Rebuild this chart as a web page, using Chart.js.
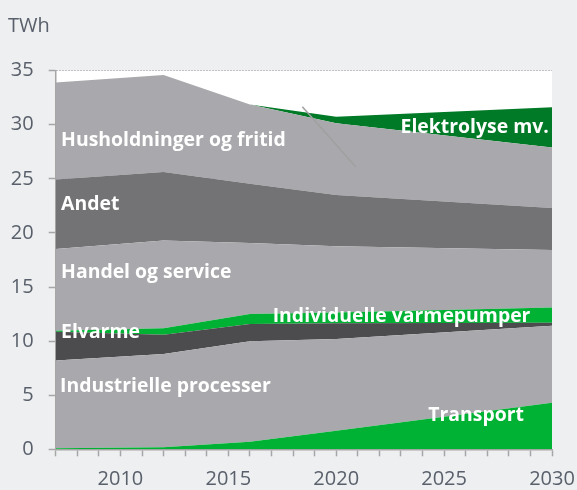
<!DOCTYPE html>
<html>
<head>
<meta charset="utf-8">
<script src="https://cdn.jsdelivr.net/npm/chart.js@4.4.1/dist/chart.umd.min.js"></script>
<style>
  html, body { margin: 0; padding: 0; background: #eeeff1; }
  canvas { display: block; }
</style>
</head>
<body>
<canvas id="chart" width="577" height="490"></canvas>
<script>
// Years with data points
const years = [2007, 2012, 2016, 2020, 2030];

// Layer thickness per year (TWh), stacked bottom to top
const transport = [0.1, 0.2, 0.7, 1.72, 4.3];
const industrielle = [8.1, 8.6, 9.3, 8.48, 7.12];
const elvarme = [2.67, 1.8, 1.58, 1.45, 0.28];
const varmepumper = [0.09, 0.6, 0.92, 1.0, 1.42];
const handel = [7.55, 8.11, 6.57, 6.11, 5.3];
const andet = [6.44, 6.32, 5.48, 4.75, 3.88];
const husholdninger = [8.97, 8.97, 7.32, 6.63, 5.61];
const elektrolyse = [0, 0, 0, 0.6, 3.7];

const yTicks = [0, 5, 10, 15, 20, 25, 30, 35];
const xLabelYears = [2010, 2015, 2020, 2025, 2030];
const unitLabel = "TWh";

// In-chart labels: text, anchor year, baseline value, alignment
const areaLabels = [
  { text: "Husholdninger og fritid", x: 2007.25, y: 28.06, align: "left" },
  { text: "Andet", x: 2007.25, y: 22.12, align: "left" },
  { text: "Handel og service", x: 2007.25, y: 15.83, align: "left" },
  { text: "Elvarme", x: 2007.25, y: 10.26, align: "left" },
  { text: "Industrielle processer", x: 2007.2, y: 5.32, align: "left" },
  { text: "Individuelle varmepumper", x: 2029.0, y: 11.74, align: "right" },
  { text: "Transport", x: 2028.7, y: 2.64, align: "right" },
  { text: "Elektrolyse mv.", x: 2029.85, y: 29.26, align: "right" },
];
// Leader line from the Elektrolyse band
const leader = { x1: 2018.43, y1: 31.66, x2: 2020.9, y2: 26.13 };

const lightGray = "#a9a8ac";
const green = "#00b233";
const darkGreen = "#007a27";
const textColor = "#59606b";
const axisColor = "#a6a6a6";
const gridColor = "#909094";

const toPoints = (arr) => arr.map((v, i) => ({ x: years[i], y: v }));

const series = [
  { label: "Transport", data: transport, color: green },
  { label: "Industrielle processer", data: industrielle, color: lightGray },
  { label: "Elvarme", data: elvarme, color: "#4c4b4d" },
  { label: "Individuelle varmepumper", data: varmepumper, color: green },
  { label: "Handel og service", data: handel, color: lightGray },
  { label: "Andet", data: andet, color: "#737275" },
  { label: "Husholdninger og fritid", data: husholdninger, color: lightGray },
  { label: "Elektrolyse mv.", data: elektrolyse, color: darkGreen },
];

// Paints the plot area white and draws the labels / leader line
const decorations = {
  id: "decorations",
  beforeDraw(chart) {
    const { ctx, chartArea } = chart;
    ctx.save();
    ctx.fillStyle = "#ffffff";
    ctx.fillRect(chartArea.left, chartArea.top, chartArea.right - chartArea.left, chartArea.bottom - chartArea.top);
    ctx.restore();
  },
  afterDraw(chart) {
    const { ctx } = chart;
    const xs = chart.scales.x;
    const ys = chart.scales.y;
    ctx.save();
    // leader line
    ctx.strokeStyle = "#a0a0a0";
    ctx.lineWidth = 1.5;
    ctx.beginPath();
    ctx.moveTo(xs.getPixelForValue(leader.x1), ys.getPixelForValue(leader.y1));
    ctx.lineTo(xs.getPixelForValue(leader.x2), ys.getPixelForValue(leader.y2));
    ctx.stroke();
    // area labels
    ctx.fillStyle = "#ffffff";
    ctx.font = '700 19.4px "Open Sans"';
    ctx.textBaseline = "alphabetic";
    areaLabels.forEach((l) => {
      ctx.textAlign = l.align;
      ctx.fillText(l.text, xs.getPixelForValue(l.x), ys.getPixelForValue(l.y));
    });
    // unit
    ctx.fillStyle = textColor;
    ctx.font = '20px "Open Sans"';
    ctx.textAlign = "left";
    ctx.fillText(unitLabel, 8, 32);
    ctx.restore();
  },
};

new Chart(document.getElementById("chart"), {
  type: "line",
  data: {
    datasets: series.map((s, i) => ({
      label: s.label,
      data: toPoints(s.data),
      backgroundColor: s.color,
      borderWidth: 0,
      pointRadius: 0,
      fill: i === 0 ? "origin" : "-1",
      tension: 0,
    })),
  },
  options: {
    responsive: false,
    animation: false,
    layout: { padding: { top: 70.7, right: 25, left: 0, bottom: 0 } },
    plugins: { legend: { display: false }, tooltip: { enabled: false } },
    scales: {
      x: {
        type: "linear",
        min: 2007,
        max: 2030,
        afterFit: (scale) => {
          scale.height = 40.7;
          scale.paddingLeft = 0;
          scale.paddingRight = 0;
        },
        ticks: {
          stepSize: 1,
          autoSkip: false,
          maxRotation: 0,
          padding: 11,
          color: textColor,
          font: { family: "Open Sans", size: 20 },
          callback: (v) => (xLabelYears.includes(v) ? String(v) : ""),
        },
        grid: { drawOnChartArea: false, tickLength: 7, tickColor: axisColor, tickWidth: 1.5 },
        border: { color: axisColor, width: 1.5 },
      },
      y: {
        stacked: true,
        min: 0,
        max: 35,
        z: 1,
        afterFit: (scale) => {
          scale.width = 55.7;
          scale.paddingTop = 0;
          scale.paddingBottom = 0;
        },
        afterBuildTicks: (scale) => { scale.ticks = yTicks.map((v) => ({ value: v })); },
        ticks: {
          padding: 15,
          color: textColor,
          font: { family: "Open Sans", size: 20 },
        },
        grid: { color: gridColor, lineWidth: 1, tickLength: 7, tickColor: axisColor, tickWidth: 1.5, tickBorderDash: [] },
        border: { color: axisColor, width: 1.5, dash: [1, 2] },
      },
    },
  },
  plugins: [decorations],
});
</script>
</body>
</html>
